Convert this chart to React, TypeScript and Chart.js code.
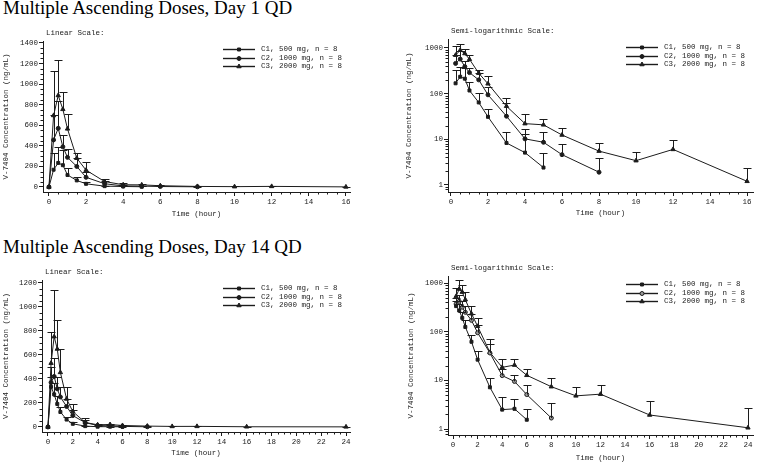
import React, { useEffect, useRef } from 'react';
import { Chart, registerables } from 'chart.js';

Chart.register(...registerables);

// ---------- data ----------
const seriesLabels = ['C1, 500 mg, n = 8', 'C2, 1000 mg, n = 8', 'C3, 2000 mg, n = 8'];
const yAxisTitle = 'V-7404 Concentration (ng/mL)';
const xAxisTitle = 'Time (hour)';
const titleDay1 = 'Multiple Ascending Doses, Day 1 QD';
const titleDay14 = 'Multiple Ascending Doses, Day 14 QD';
const captionLinear = 'Linear Scale:';
const captionLog = 'Semi-logarithmic Scale:';

const day1Times = [0, 0.25, 0.5, 0.75, 1, 1.5, 2, 3, 4, 5, 6, 8, 10, 12, 16];
const day1C1Mean = [0, 168, 234, 212, 117, 64, 31, 8.3, 5.1, 2.4, null, null, null, null, null];
const day1C1Upper = [null, 330, 390, 358, 181, 101, 47, 14.5, 13, 4.9, null, null, null, null, null];
const day1C2Mean = [0, 458, 570, 390, 288, 200, 94, 32, 10.2, 8.6, 4.6, 1.9, null, null, null];
const day1C2Upper = [null, 703, 840, 505, 371, 285, 142, 62, 17, 14.2, 7.7, 3.8, null, null, null];
const day1C3Mean = [0, 695, 890, 755, 565, 280, 164, 53, 22, 20.7, 12.4, 5.5, 3.4, 6.0, 1.2];
const day1C3Upper = [null, 1124, 1237, 925, 710, 335, 240, 80, 35, 28, 17.9, 8.2, 5.2, 9.8, 2.3];

const day14Times = [0, 0.25, 0.5, 0.75, 1, 1.5, 2, 3, 4, 5, 6, 8, 10, 12, 16, 24];
const day14C1Mean = [0, 335, 272, 192, 125, 62, 26.6, 7.2, 2.5, 2.6, 1.55, null, null, null, null, null];
const day14C1Upper = [null, 420, 370, 255, 170, 84, 41, 11.2, 4.5, 4.1, 2.6, null, null, null, null, null];
const day14C2Mean = [0, 371, 421, 318, 250, 171, 95, 36.5, 12.5, 9.5, 5.1, 1.68, null, null, null, null];
const day14C2Upper = [null, 500, 576, 420, 330, 235, 140, 55, 17, 13, 8, 3.4, null, null, null, null];
const day14C3Mean = [0, 532, 753, 650, 455, 234, 129, 37.6, 18.5, 20.6, 12.7, 7.4, 4.8, 5.2, 1.94, 1.06];
const day14C3Upper = [null, 790, 1140, 890, 650, 337, 191, 71, 27, 27, 17, 11.2, 7.4, 7.9, 3.8, 2.7];

const xTicks16 = [0, 2, 4, 6, 8, 10, 12, 14, 16];
const xTicks24 = [0, 2, 4, 6, 8, 10, 12, 14, 16, 18, 20, 22, 24];
const yTicksLin1400 = [0, 200, 400, 600, 800, 1000, 1200, 1400];
const yTicksLin1200 = [0, 200, 400, 600, 800, 1000, 1200];
const yTicksLog = [1, 10, 100, 1000];

// ---------- panel setup ----------
type Num = number | null;
type Panel = {
  times: number[];
  means: Num[][];
  uppers: Num[][];
  log: boolean;
  xTicks: number[];
  yTicks: number[];
  xMin: number; xMax: number; yMin: number; yMax: number;
  xMinor: number; yMinor: number;
  caption: string;
  c2Fill: string;
  box: { left: number; top: number; width: number; height: number };
  yAxisWidth: number; padTop: number; padRight: number; xAxisHeight: number;
  yTitlePad: number; xTitlePad: number;
};

const MONO = '"Liberation Mono", "DejaVu Sans Mono", monospace';
const INK = '#1c1c1c';
const FS = 7.5;

function drawMarker(ctx: CanvasRenderingContext2D, style: string, x: number, y: number, r: number, fill: string) {
  ctx.beginPath();
  if (style === 'rect') {
    const s = r * Math.SQRT1_2;
    ctx.rect(x - s, y - s, 2 * s, 2 * s);
  } else if (style === 'circle') {
    ctx.arc(x, y, r, 0, Math.PI * 2);
  } else {
    ctx.moveTo(x, y - r);
    ctx.lineTo(x + r * 0.866, y + r * 0.5);
    ctx.lineTo(x - r * 0.866, y + r * 0.5);
    ctx.closePath();
  }
  ctx.fillStyle = fill;
  ctx.fill();
  ctx.strokeStyle = INK;
  ctx.lineWidth = 1;
  ctx.stroke();
}

function ChartPanel({ p }: { p: Panel }) {
  const ref = useRef<HTMLCanvasElement>(null);
  useEffect(() => {
    const canvas = ref.current!;
    const styles = ['rect', 'circle', 'triangle'];
    const radii = [2.1, 2.0, 2.5];
    const fills = [INK, p.c2Fill, INK];

    const datasets = p.means.map((arr, si) => ({
      label: seriesLabels[si],
      data: p.times.map((t, i) => {
        const v = arr[i];
        return { x: t, y: v == null || (p.log && v <= 0) ? null : v };
      }),
      upper: p.uppers[si],
      borderColor: INK,
      borderWidth: 1,
      backgroundColor: fills[si],
      pointStyle: styles[si],
      pointRadius: radii[si],
      pointHoverRadius: radii[si],
      pointBorderColor: INK,
      pointBackgroundColor: fills[si],
      pointBorderWidth: 1,
      tension: 0,
      spanGaps: false,
    }));

    const errorBars = {
      id: 'errorBars',
      afterDatasetsDraw(chart: any) {
        const ctx = chart.ctx as CanvasRenderingContext2D;
        const yS = chart.scales.y;
        ctx.save();
        ctx.strokeStyle = INK;
        ctx.lineWidth = 1;
        chart.data.datasets.forEach((ds: any, di: number) => {
          const meta = chart.getDatasetMeta(di);
          meta.data.forEach((el: any, i: number) => {
            const u = ds.upper[i];
            const v = ds.data[i].y;
            if (u == null || v == null) return;
            const x = Math.round(el.x) + 0.5;
            const yTop = Math.round(yS.getPixelForValue(u)) + 0.5;
            ctx.beginPath();
            ctx.moveTo(x, el.y);
            ctx.lineTo(x, yTop);
            ctx.moveTo(x - 4, yTop);
            ctx.lineTo(x + 4, yTop);
            ctx.stroke();
          });
        });
        ctx.restore();
      },
    };

    const extras = {
      id: 'extras',
      afterDraw(chart: any) {
        const ctx = chart.ctx as CanvasRenderingContext2D;
        const { left, right, top, bottom } = chart.chartArea;
        const xS = chart.scales.x;
        const yS = chart.scales.y;
        ctx.save();
        ctx.strokeStyle = INK;
        ctx.lineWidth = 1;
        // minor ticks x
        ctx.beginPath();
        const start = Math.ceil(p.xMin / p.xMinor) * p.xMinor;
        for (let v = start; v <= p.xMax + 1e-9; v += p.xMinor) {
          if (p.xTicks.includes(v)) continue;
          const x = Math.round(xS.getPixelForValue(v)) + 0.5;
          ctx.moveTo(x, bottom);
          ctx.lineTo(x, bottom + 2.5);
        }
        // minor ticks y
        const yVals: number[] = [];
        if (p.log) {
          for (let d = 0.1; d <= 1000; d *= 10) {
            for (let m = 2; m <= 9; m++) yVals.push(Math.round(d * m * 1000) / 1000);
          }
        } else {
          for (let v = 0; v <= p.yMax; v += p.yMinor) if (!p.yTicks.includes(v)) yVals.push(v);
        }
        yVals.forEach((v) => {
          if (v < p.yMin || v > p.yMax) return;
          const y = Math.round(yS.getPixelForValue(v)) + 0.5;
          ctx.moveTo(left - 2.5, y);
          ctx.lineTo(left, y);
        });
        ctx.stroke();

        // caption
        ctx.fillStyle = INK;
        ctx.font = `${FS}px ${MONO}`;
        ctx.textBaseline = 'middle';
        ctx.textAlign = 'left';
        ctx.fillText(p.caption, left + 3, top - 8);

        // legend
        chart.data.datasets.forEach((ds: any, i: number) => {
          const y = Math.round(top + 8 + i * 8.6) + 0.5;
          const x1 = right - 127;
          const x2 = right - 95;
          ctx.beginPath();
          ctx.lineWidth = 1.4;
          ctx.strokeStyle = INK;
          ctx.moveTo(x1, y);
          ctx.lineTo(x2, y);
          ctx.stroke();
          drawMarker(ctx, styles[i], (x1 + x2) / 2, y, radii[i], fills[i]);
          ctx.fillStyle = INK;
          ctx.fillText(ds.label, right - 89, y);
        });
        ctx.restore();
      },
    };

    const tickFont = { family: MONO, size: FS };
    const chart = new Chart(canvas, {
      type: 'line',
      data: { datasets: datasets as any },
      options: {
        responsive: false,
        animation: false,
        events: [],
        layout: { padding: { left: 0, right: p.padRight, top: p.padTop, bottom: 0 } },
        plugins: { legend: { display: false }, tooltip: { enabled: false }, title: { display: false } },
        scales: {
          x: {
            type: 'linear',
            min: p.xMin,
            max: p.xMax,
            afterBuildTicks: (s: any) => { s.ticks = p.xTicks.map((v) => ({ value: v })); },
            afterFit: (s: any) => { s.height = p.xAxisHeight; },
            ticks: { font: tickFont, color: INK, padding: 2, maxRotation: 0, autoSkip: false, callback: (v: any) => String(v) },
            grid: { display: true, drawOnChartArea: false, drawTicks: true, tickLength: 4, tickColor: INK, color: INK },
            border: { display: true, color: INK, width: 1 },
            title: { display: true, text: xAxisTitle, font: tickFont, color: INK, padding: { top: 0, bottom: p.xTitlePad } },
          },
          y: {
            type: p.log ? 'logarithmic' : 'linear',
            min: p.yMin,
            max: p.yMax,
            afterBuildTicks: (s: any) => { s.ticks = p.yTicks.map((v) => ({ value: v })); },
            afterFit: (s: any) => { s.width = p.yAxisWidth; },
            ticks: { font: tickFont, color: INK, padding: 1, autoSkip: false, callback: (v: any) => String(v) },
            grid: { display: true, drawOnChartArea: false, drawTicks: true, tickLength: 4, tickColor: INK, color: INK },
            border: { display: true, color: INK, width: 1 },
            title: { display: true, text: yAxisTitle, font: tickFont, color: INK, padding: { top: p.yTitlePad, bottom: 0 } },
          },
        },
      } as any,
      plugins: [errorBars, extras],
    });
    return () => chart.destroy();
  }, [p]);

  return (
    <canvas
      ref={ref}
      width={p.box.width}
      height={p.box.height}
      style={{ position: 'absolute', left: p.box.left, top: p.box.top, width: p.box.width, height: p.box.height }}
    />
  );
}

const panels: Panel[] = [
  {
    times: day1Times, means: [day1C1Mean, day1C2Mean, day1C3Mean], uppers: [day1C1Upper, day1C2Upper, day1C3Upper],
    log: false, xTicks: xTicks16, yTicks: yTicksLin1400,
    xMin: -0.32, xMax: 16.22, yMin: -48.6, yMax: 1419, xMinor: 0.5, yMinor: 50,
    caption: captionLinear, c2Fill: INK,
    box: { left: 0, top: 20, width: 375, height: 205 },
    yAxisWidth: 43, padTop: 21, padRight: 25, xAxisHeight: 33, yTitlePad: 2, xTitlePad: 6.5,
  },
  {
    times: day1Times, means: [day1C1Mean, day1C2Mean, day1C3Mean], uppers: [day1C1Upper, day1C2Upper, day1C3Upper],
    log: true, xTicks: xTicks16, yTicks: yTicksLog,
    xMin: -0.16, xMax: 16.32, yMin: 0.74, yMax: 1569, xMinor: 0.5, yMinor: 0,
    caption: captionLog, c2Fill: INK,
    box: { left: 380, top: 20, width: 378, height: 205 },
    yAxisWidth: 68, padTop: 19, padRight: 5, xAxisHeight: 33, yTitlePad: 25, xTitlePad: 7.5,
  },
  {
    times: day14Times, means: [day14C1Mean, day14C2Mean, day14C3Mean], uppers: [day14C1Upper, day14C2Upper, day14C3Upper],
    log: false, xTicks: xTicks24, yTicks: yTicksLin1200,
    xMin: -0.48, xMax: 24.32, yMin: -41.7, yMax: 1225, xMinor: 0.5, yMinor: 50,
    caption: captionLinear, c2Fill: INK,
    box: { left: 0, top: 230, width: 375, height: 233 },
    yAxisWidth: 42, padTop: 50, padRight: 25, xAxisHeight: 31, yTitlePad: 2, xTitlePad: 5.5,
  },
  {
    times: day14Times, means: [day14C1Mean, day14C2Mean, day14C3Mean], uppers: [day14C1Upper, day14C2Upper, day14C3Upper],
    log: true, xTicks: xTicks24, yTicks: yTicksLog,
    xMin: -0.41, xMax: 24.41, yMin: 0.753, yMax: 1393, xMinor: 0.5, yMinor: 0,
    caption: captionLog, c2Fill: '#9a9a9a',
    box: { left: 380, top: 230, width: 378, height: 233 },
    yAxisWidth: 68, padTop: 46, padRight: 5, xAxisHeight: 28, yTitlePad: 27, xTitlePad: 0.5,
  },
];

const titleStyle: React.CSSProperties = {
  position: 'absolute',
  left: 3,
  fontFamily: '"Liberation Serif", "Times New Roman", serif',
  fontSize: 19,
  lineHeight: '19px',
  whiteSpace: 'nowrap',
  color: '#000',
};

export default function App() {
  return (
    <div style={{ position: 'absolute', left: 0, top: 0, width: 758, height: 463, background: '#fff', overflow: 'hidden' }}>
      <div style={{ ...titleStyle, top: -2.3 }}>{titleDay1}</div>
      <div style={{ ...titleStyle, top: 236.7 }}>{titleDay14}</div>
      {panels.map((p, i) => (
        <ChartPanel key={i} p={p} />
      ))}
    </div>
  );
}
